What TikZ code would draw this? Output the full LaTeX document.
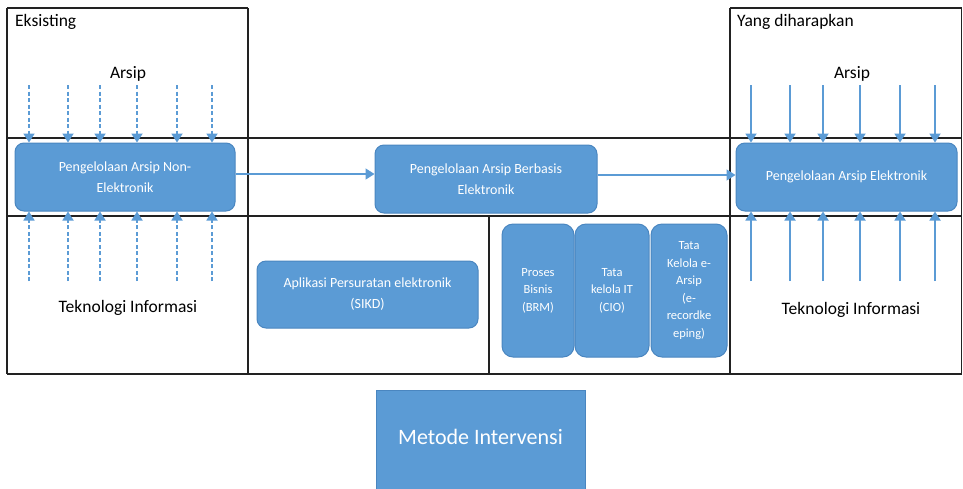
\documentclass[tikz,border=0pt]{standalone}
\usepackage{fontspec}
\setmainfont{Carlito}
\usetikzlibrary{arrows.meta}
\definecolor{boxblue}{HTML}{5B9BD5}
\definecolor{boxedge}{HTML}{4A86C0}
\definecolor{frameline}{HTML}{222222}
\begin{document}
\begin{tikzpicture}[x=1pt,y=-1pt,
  frame/.style={draw=frameline,line width=1.1pt},
  procbox/.style={draw=boxedge,fill=boxblue,line width=1pt,rounded corners=9pt,
    text=white,align=center,inner sep=2pt,font=\fontsize{14}{21}\selectfont},
  smallbox/.style={procbox,rounded corners=11pt,minimum height=133pt,
    font=\fontsize{12.5}{17.5}\selectfont},
  feed/.style={draw=boxblue,line width=1.8pt,-{Triangle[width=11pt,length=9pt]}},
  feeddash/.style={feed,dash pattern=on 4pt off 2.5pt},
  lbl/.style={inner sep=0pt,font=\fontsize{17.5}{20}\selectfont}]
\useasboundingbox (0,0) rectangle (963,488);
\fill[white] (0,0) rectangle (963,488);

% table frame
\draw[frame] (7,8) -- (248,8);
\draw[frame] (730,8) -- (961.5,8);
\draw[frame] (7,8) -- (7,374);
\draw[frame] (248,8) -- (248,374);
\draw[frame] (730,8) -- (730,374);
\draw[frame] (961.5,8) -- (961.5,374);
\draw[frame] (7,138) -- (961.5,138);
\draw[frame] (7,216) -- (961.5,216);
\draw[frame] (7,374) -- (961.5,374);
\draw[frame] (489,216) -- (489,374);

% column headings
\node[lbl,anchor=west] (eks) at (15,22) {Eksisting};
\node[lbl,anchor=west] (yang) at (737,22) {Yang diharapkan};
\node[lbl] (arsipL) at (128,74) {Arsip};
\node[lbl] (arsipR) at (852,74) {Arsip};
\node[lbl] (tiL) at (128,308) {Teknologi Informasi};
\node[lbl] (tiR) at (851,310) {Teknologi Informasi};

% process boxes
\node[procbox,minimum width=220pt,minimum height=68pt] (nonel) at (125,177)
  {Pengelolaan Arsip Non-\\Elektronik};
\node[procbox,minimum width=222pt,minimum height=68pt] (basis) at (486,179)
  {Pengelolaan Arsip Berbasis\\Elektronik};
\node[procbox,minimum width=221pt,minimum height=68pt] (elek) at (846.5,177)
  {Pengelolaan Arsip Elektronik};
\node[procbox,minimum width=221pt,minimum height=67pt] (sikd) at (367.5,294.5)
  {Aplikasi Persuratan elektronik\\(SIKD)};
\node[smallbox,minimum width=72pt] (brm) at (538,290.5) {Proses\\Bisnis\\(BRM)};
\node[smallbox,minimum width=74pt] (cio) at (612,290.5) {Tata\\kelola IT\\(CIO)};
\node[smallbox,minimum width=76pt] (erec) at (689,290.5)
  {Tata\\Kelola e-\\Arsip\\(e-\\recordke\\eping)};
\node[draw=boxedge,fill=boxblue,line width=0.8pt,minimum width=209pt,minimum height=100pt,
  text=white,font=\fontsize{22}{26}\selectfont] (metode) at (480.5,440)
  {\raisebox{7pt}{Metode Intervensi}};

% flow between stages
\draw[feed,line width=1.5pt] (nonel.east |- 0,174) coordinate (f1) -- (f1 -| basis.west);
\draw[feed,line width=1.5pt] (basis.east |- 0,175) coordinate (f2) -- (f2 -| elek.west);

% inputs to the existing process (dashed)
\foreach \x [count=\i] in {29,68,100,137,177,212} {
  \coordinate (aL\i) at (\x,85);
  \coordinate (tL\i) at (\x,281);
  \draw[feeddash] (aL\i) -- (aL\i |- nonel.north);
  \draw[feeddash] (tL\i) -- (tL\i |- nonel.south);
}
% inputs to the target process (solid)
\foreach \x [count=\i] in {751,790,823,860,900,935} {
  \coordinate (aR\i) at (\x,85);
  \coordinate (tR\i) at (\x,281);
  \draw[feed] (aR\i) -- (aR\i |- elek.north);
  \draw[feed] (tR\i) -- (tR\i |- elek.south);
}
\end{tikzpicture}
\end{document}
